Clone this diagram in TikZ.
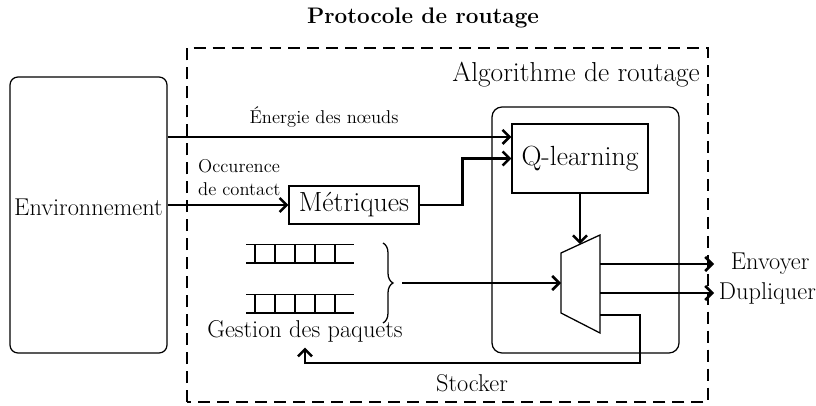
\documentclass[tikz,border=0pt]{standalone}
\usepackage{fontspec}
\usepackage{tikz}
\usetikzlibrary{arrows.meta,positioning,calc,decorations.pathreplacing}

\begin{document}
\begin{tikzpicture}[
  box/.style={draw, line width=0.9pt, font=\fontsize{19.7}{23}\selectfont, inner sep=2pt},
  arr/.style={-{Straight Barb[length=5pt,width=10pt]}, line width=1.8pt},
  txt/.style={font=\fontsize{17.3}{20}\selectfont},
  small/.style={font=\fontsize{13.2}{16.3}\selectfont},
  queue/.style={line width=0.9pt},
]
\useasboundingbox (0,0) rectangle (20.4,10.125);

% FRAME
\node[font=\fontsize{16}{19}\selectfont\bfseries] (title) at (10.575, 9.675) {Protocole de routage};
\draw[line width=0.8pt, dash pattern=on 8.5pt off 5pt] (4.675, 0.075) rectangle (17.7, 8.925);
\node[font=\fontsize{19.5}{23}\selectfont, anchor=east] (algo) at (17.62, 8.25) {Algorithme de routage};

% ENVIRONMENT
\node[draw, line width=0.9pt, rounded corners=0.2cm, minimum width=3.925cm, minimum height=6.9cm] (env) at (2.2125, 4.75) {};
\node[txt] (envtext) at (2.2125, 4.95) {Environnement};

% ROUTING BLOCK
\node[draw, line width=0.9pt, rounded corners=0.25cm, minimum width=4.675cm, minimum height=6.15cm] (algbox) at (14.6375, 4.375) {};
\node[box, minimum width=3.4cm, minimum height=1.725cm] (qlearn) at (14.5, 6.1625) {Q-learning};
\node[box, minimum width=3.25cm, minimum height=0.95cm] (metr) at (8.85, 5.0) {Métriques};
\coordinate (eIn) at ([yshift=0.54cm]qlearn.west);

% selector
\draw[line width=0.9pt] (14.025, 3.8) -- (15.0, 4.25) -- (15.0, 1.8) -- (14.025, 2.3) -- cycle;
\coordinate (muxin) at (14.025, 3.05);
\coordinate (muxtop) at (14.5, 4.02);
\coordinate (muxsend) at (15.0, 3.525);
\coordinate (muxdup) at (15.0, 2.8);
\coordinate (muxstore) at (15.0, 2.25);

% PACKET QUEUES
\foreach \y in {3.55, 2.3} {
  \draw[queue] (6.15, \y) -- (8.85, \y) (6.15, \y+0.46) -- (8.85, \y+0.46);
  \foreach \x in {6.375, 6.875, 7.375, 7.875, 8.375}
    \draw[queue] (\x, \y) -- (\x, \y+0.46);
}
\draw[line width=0.9pt, decorate, decoration={brace, amplitude=0.25cm}] (9.575, 4.05) -- (9.575, 2.05);
\coordinate (brtip) at (10.05, 3.05);
\node[txt] (gest) at (7.625, 1.83) {Gestion des paquets};

% INPUTS
\node[small] (energie) at (8.1, 7.2) {Énergie des nœuds};
\draw[arr] (env.east |- eIn) -- (eIn);
\node[small, align=left, anchor=south west] (occ) at (4.83, 5.1) {Occurence\\de contact};
\draw[arr] (env.east |- metr.west) -- (metr.west);
\draw[arr] (metr.east) -- ++(1.075,0) |- (qlearn.west);
\draw[arr] (brtip) -- (muxin);
\draw[arr] (qlearn.south) -- (muxtop);

% OUTPUTS
\node[txt, anchor=west] (send) at (18.15, 3.525) {Envoyer};
\node[txt, anchor=west] (dup) at (17.85, 2.8) {Dupliquer};
\draw[arr] (muxsend) -- (dup.west |- send.west);
\draw[arr] (muxdup) -- (dup.west);
\coordinate (back) at (16.0, 1.05);
\draw[arr] (muxstore) -| (back) -| (gest.south);
\node[txt] (stock) at (11.8, 0.55) {Stocker};
\end{tikzpicture}
\end{document}
